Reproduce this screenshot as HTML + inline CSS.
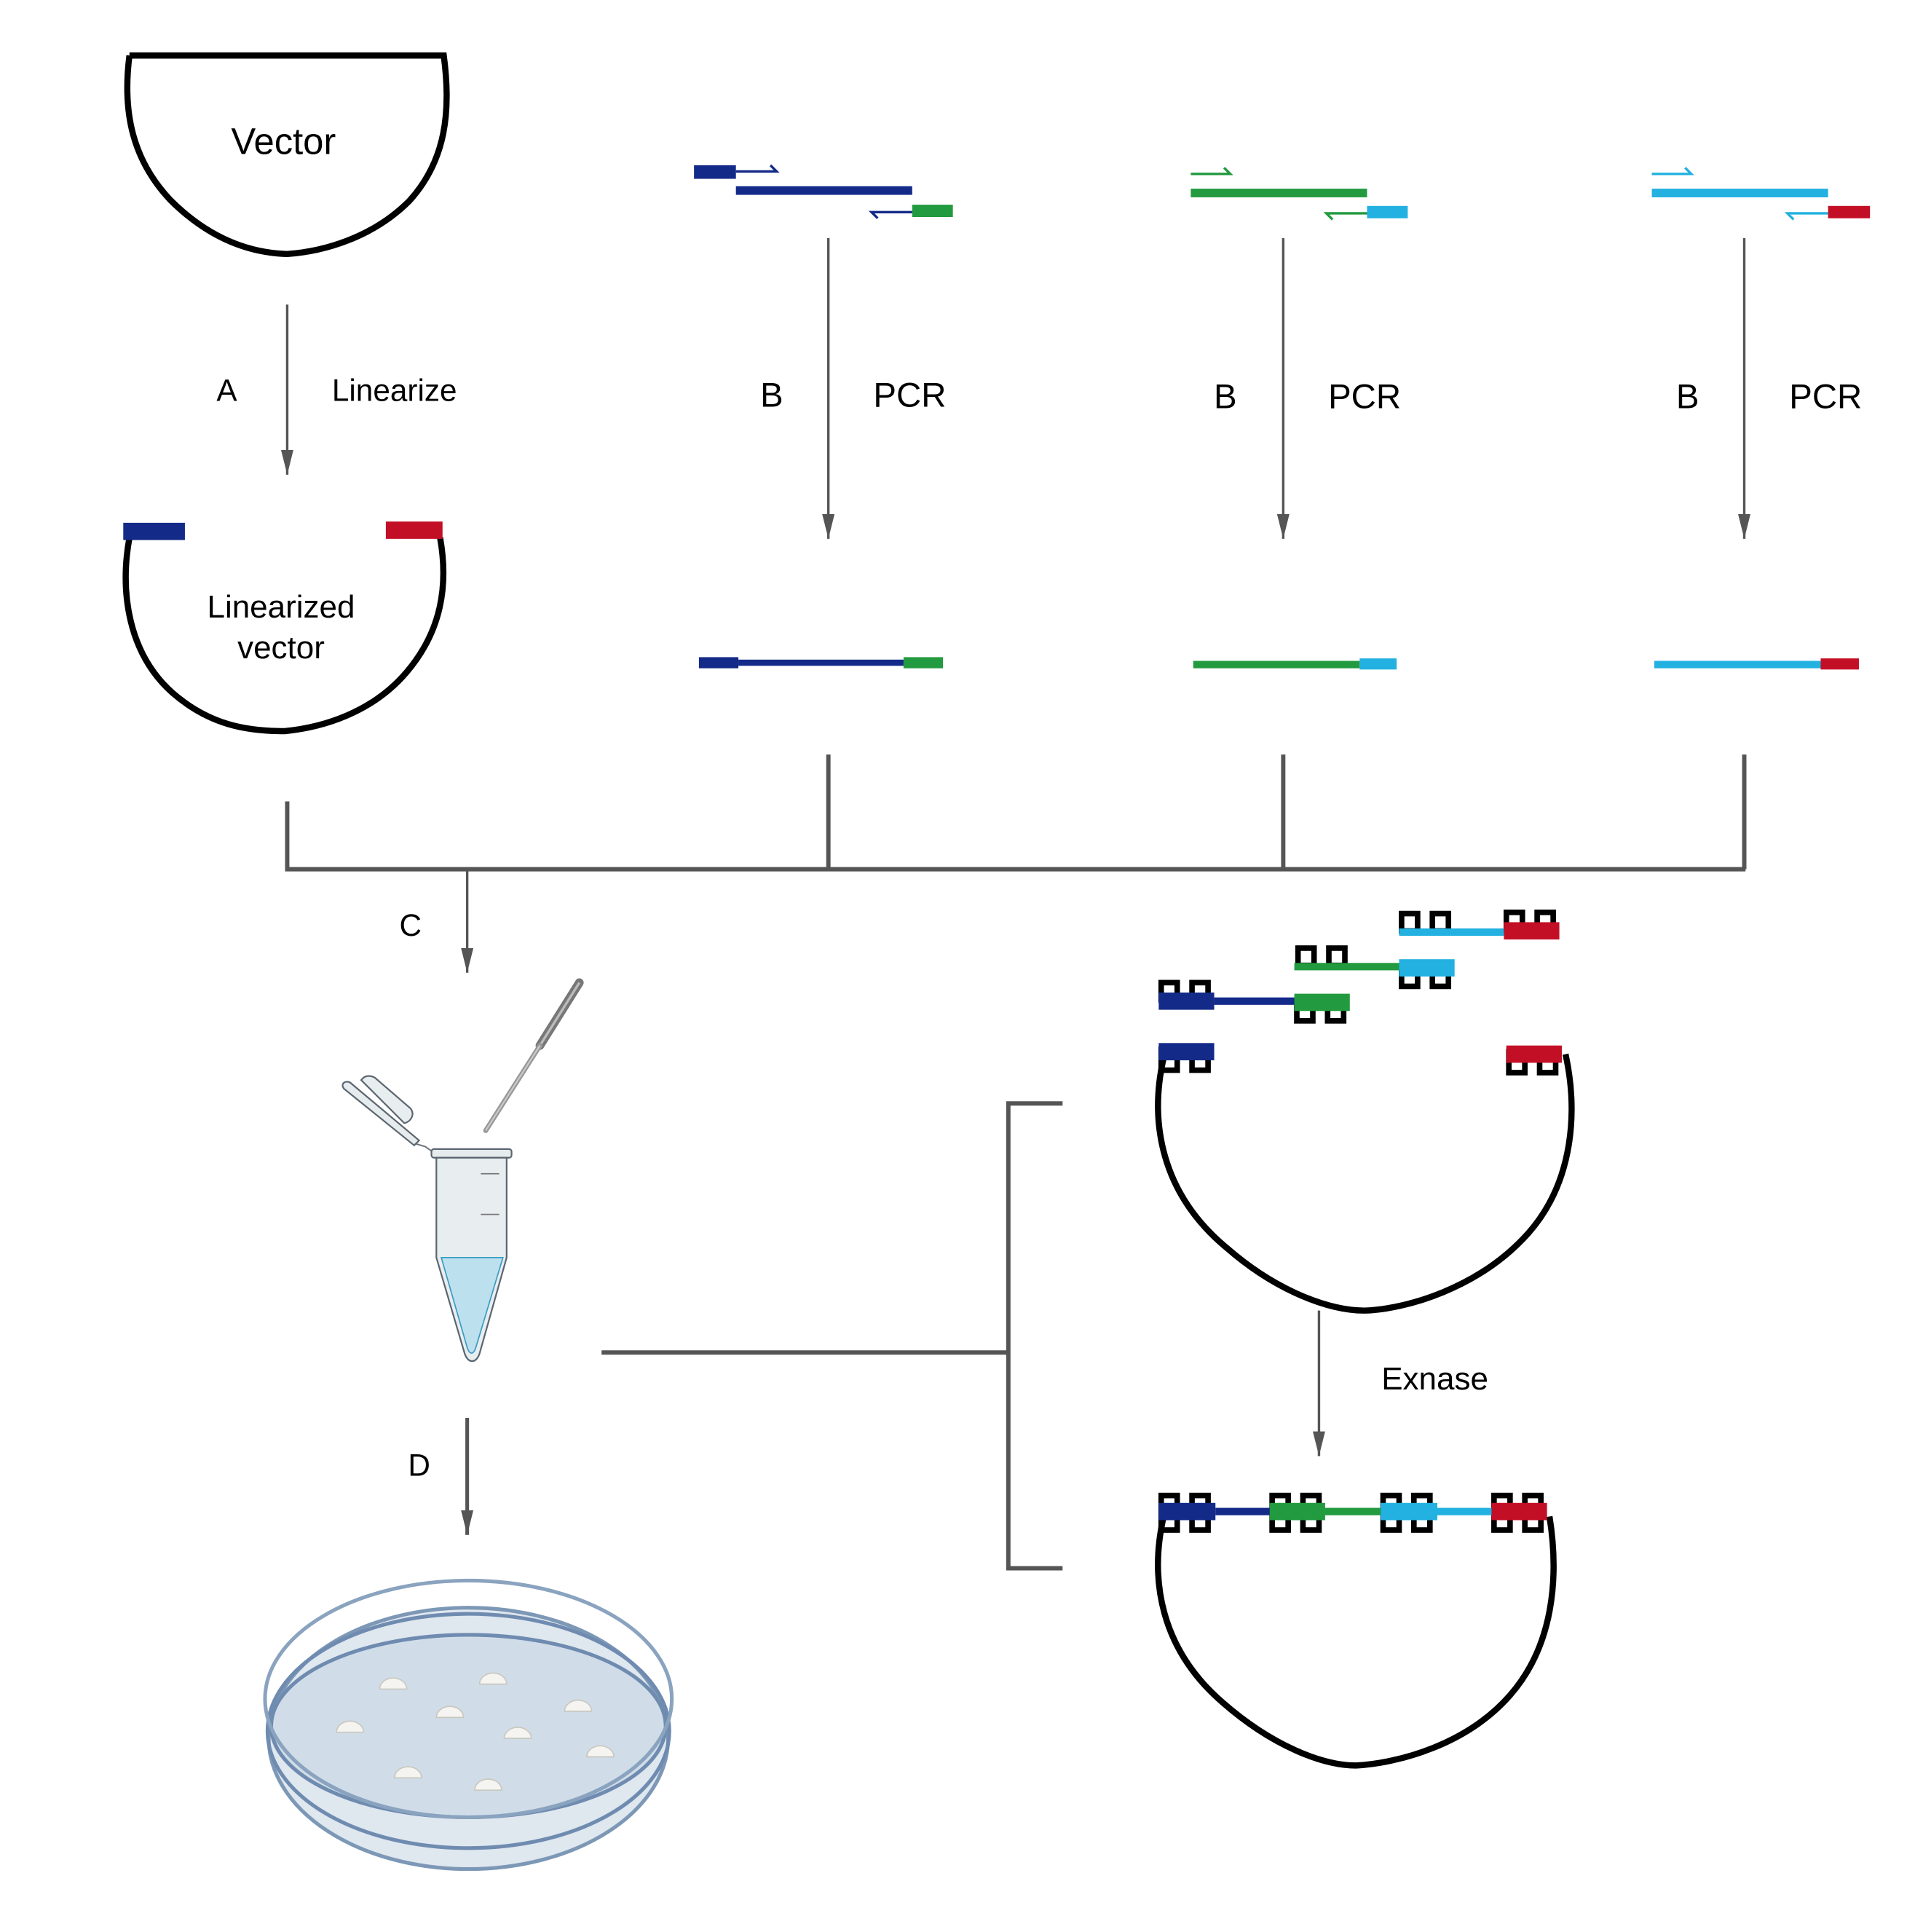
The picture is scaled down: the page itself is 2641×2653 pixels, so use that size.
<!DOCTYPE html>
<html><head><meta charset="utf-8"><style>
html,body{margin:0;padding:0;background:#fff;}
svg{display:block;}
text{font-family:"Liberation Sans",sans-serif;fill:#000;}
</style></head><body>
<svg width="2641" height="2653" viewBox="0 0 1560 1567" xmlns="http://www.w3.org/2000/svg">
<defs>
<marker id="ah" markerWidth="20" markerHeight="10" refX="20" refY="5" orient="auto" markerUnits="userSpaceOnUse" viewBox="0 0 20 10">
<path d="M0,0 L20,5 L0,10 Z" fill="#555"/></marker>
</defs>
<g fill="none" stroke="#000" stroke-width="5">
<path d="M105,45 L360,45 C366,90 362,130 332,163 C302,193 262,204 233,206 C200,205 168,192 138,162 C108,130 99,92 105,45"/>
<path d="M105,436 C97,480 104,530 140,562 C170,588 200,593 231,593 C262,590 302,578 330,545 C358,512 364,475 357,436"/>
<path d="M944,858 C932,910 942,968 995,1012 C1035,1047 1078,1063 1107,1063 C1140,1062 1200,1045 1240,1000 C1277,958 1280,900 1270,855"/>
<path d="M944,1230 C932,1282 942,1338 992,1381 C1032,1416 1073,1432 1100,1432 C1135,1430 1190,1415 1225,1375 C1260,1335 1265,1280 1257,1230"/>
</g>
<text x="230" y="125" font-size="30" text-anchor="middle">Vector</text>
<text x="228" y="501" font-size="26" text-anchor="middle">Linearized</text>
<text x="228" y="534" font-size="26" text-anchor="middle">vector</text>
<rect x="100" y="424" width="50" height="14" fill="#132a88"/>
<rect x="313" y="423" width="46" height="14" fill="#c30f26"/>

<g stroke="#555" stroke-width="2" fill="none">
<line x1="233" y1="247" x2="233" y2="385" marker-end="url(#ah)"/>
<line x1="672" y1="193" x2="672" y2="437" marker-end="url(#ah)"/>
<line x1="1041" y1="193" x2="1041" y2="437" marker-end="url(#ah)"/>
<line x1="1415" y1="193" x2="1415" y2="437" marker-end="url(#ah)"/>
<line x1="379" y1="706" x2="379" y2="789" marker-end="url(#ah)"/>
<line x1="1070" y1="1063" x2="1070" y2="1181" marker-end="url(#ah)"/>
</g>
<line x1="379" y1="1150" x2="379" y2="1245" stroke="#555" stroke-width="3" marker-end="url(#ah)"/>
<text x="184" y="325" font-size="25" text-anchor="middle">A</text>
<text x="320" y="325" font-size="25" text-anchor="middle">Linearize</text>
<g font-size="28" text-anchor="middle">
<text x="626" y="330">B</text><text x="738" y="330">PCR</text>
<text x="994" y="331">B</text><text x="1107" y="331">PCR</text>
<text x="1369" y="331">B</text><text x="1481" y="331">PCR</text>
</g>
<text x="333" y="759" font-size="25" text-anchor="middle">C</text>
<text x="340" y="1197" font-size="25" text-anchor="middle">D</text>
<text x="1164" y="1127" font-size="26" text-anchor="middle">Exnase</text>

<rect x="563" y="134" width="34" height="11" fill="#132a88"/>
<path d="M597,139 L630,139 L625,134" stroke="#132a88" stroke-width="2" fill="none"/>
<rect x="597" y="151" width="143" height="7" fill="#132a88"/>
<rect x="740" y="166" width="33" height="10" fill="#229a3f"/>
<path d="M740,172 L707,172 L712,177" stroke="#132a88" stroke-width="2" fill="none"/>
<path d="M966,141 L998,141 L993,136" stroke="#229a3f" stroke-width="2" fill="none"/>
<rect x="966" y="153" width="143" height="7" fill="#229a3f"/>
<rect x="1109" y="167" width="33" height="10" fill="#22b1e0"/>
<path d="M1109,173 L1076,173 L1081,178" stroke="#229a3f" stroke-width="2" fill="none"/>
<path d="M1340,141 L1372,141 L1367,136" stroke="#22b1e0" stroke-width="2" fill="none"/>
<rect x="1340" y="153" width="143" height="7" fill="#22b1e0"/>
<rect x="1483" y="167" width="34" height="10" fill="#c30f26"/>
<path d="M1483,173 L1450,173 L1455,178" stroke="#22b1e0" stroke-width="2" fill="none"/>

<rect x="567" y="533" width="32" height="9" fill="#132a88"/>
<rect x="599" y="535" width="134" height="5" fill="#132a88"/>
<rect x="733" y="533" width="32" height="9" fill="#229a3f"/>
<rect x="968" y="536" width="135" height="6" fill="#229a3f"/>
<rect x="1103" y="534" width="30" height="9" fill="#22b1e0"/>
<rect x="1342" y="536" width="135" height="6" fill="#22b1e0"/>
<rect x="1477" y="534" width="31" height="9" fill="#c30f26"/>

<g stroke="#555" stroke-width="3.5" fill="none">
<path d="M233,650 L233,705 L1416,705"/>
<line x1="672" y1="612" x2="672" y2="705"/>
<line x1="1041" y1="612" x2="1041" y2="705"/>
<line x1="1415" y1="612" x2="1415" y2="705"/>
<line x1="488" y1="1097" x2="818" y2="1097"/>
<path d="M862,895 L818,895 L818,1272 L862,1272"/>
</g>

<g fill="none" stroke="#000" stroke-width="4.5">
<rect x="942" y="797" width="13" height="14"/><rect x="967" y="797" width="13" height="14"/>
<rect x="1052" y="812" width="13" height="16"/><rect x="1077" y="812" width="13" height="16"/>
<rect x="1053" y="769" width="13" height="14"/><rect x="1078" y="769" width="13" height="14"/>
<rect x="1137" y="784" width="13" height="16"/><rect x="1162" y="784" width="13" height="16"/>
<rect x="1137" y="741" width="13" height="14"/><rect x="1162" y="741" width="13" height="14"/>
<rect x="1222" y="740" width="13" height="14"/><rect x="1247" y="740" width="13" height="14"/>
<rect x="942" y="851" width="13" height="17"/><rect x="967" y="851" width="13" height="17"/>
<rect x="1224" y="853" width="13" height="17"/><rect x="1249" y="853" width="13" height="17"/>
<rect x="942" y="1213" width="13" height="28"/><rect x="967" y="1213" width="13" height="28"/>
<rect x="1032" y="1213" width="13" height="28"/><rect x="1057" y="1213" width="13" height="28"/>
<rect x="1122" y="1213" width="13" height="28"/><rect x="1147" y="1213" width="13" height="28"/>
<rect x="1212" y="1213" width="13" height="28"/><rect x="1237" y="1213" width="13" height="28"/>
</g>
<rect x="940" y="805" width="45" height="14" fill="#132a88"/>
<rect x="985" y="809" width="65" height="6" fill="#132a88"/>
<rect x="1050" y="806" width="45" height="14" fill="#229a3f"/>
<rect x="1050" y="781" width="85" height="6" fill="#229a3f"/>
<rect x="1135" y="778" width="45" height="14" fill="#22b1e0"/>
<rect x="1135" y="753" width="85" height="6" fill="#22b1e0"/>
<rect x="1220" y="748" width="45" height="14" fill="#c30f26"/>
<rect x="940" y="846" width="45" height="14" fill="#132a88"/>
<rect x="1222" y="848" width="45" height="14" fill="#c30f26"/>
<rect x="940" y="1219" width="46" height="14" fill="#132a88"/>
<rect x="986" y="1223" width="44" height="6" fill="#132a88"/>
<rect x="1030" y="1219" width="45" height="14" fill="#229a3f"/>
<rect x="1075" y="1223" width="45" height="6" fill="#229a3f"/>
<rect x="1120" y="1219" width="46" height="14" fill="#22b1e0"/>
<rect x="1166" y="1223" width="44" height="6" fill="#22b1e0"/>
<rect x="1210" y="1219" width="45" height="14" fill="#c30f26"/>

<g>
<line x1="470" y1="797" x2="438" y2="848" stroke="#777" stroke-width="7" stroke-linecap="round"/>
<line x1="470" y1="797" x2="438" y2="848" stroke="#bbb" stroke-width="2"/>
<line x1="438" y1="848" x2="394" y2="917" stroke="#999" stroke-width="4" stroke-linecap="round"/>
<line x1="438" y1="848" x2="394" y2="917" stroke="#ccc" stroke-width="1.2"/>
</g>
<g stroke="#5b6670" stroke-width="1.3">
<path d="M280,880 L335,927 L345,930 L352,935" fill="none" stroke="#6c757d" stroke-width="1.2"/>
<path d="M279,883 C276,879 280,876 284,878 L340,925 L336,929 Z" fill="#e6ecee"/>
<path d="M293,876 C296,872 300,872 304,874 L333,899 C337,904 333,910 328,911 Z" fill="#e8eeef"/>
<rect x="350" y="932" width="65" height="7" rx="2" fill="#e6ecee"/>
<path d="M354,939 L411,939 L411,1020 L389,1098 C386,1106 380,1106 377,1098 L354,1020 Z" fill="#e8eef0"/>
</g>
<path d="M358,1020 L408,1020 L386,1093 C384,1099 381,1099 379,1093 Z" fill="#bde0ee" stroke="#3a9bc2" stroke-width="1"/>
<line x1="390" y1="952" x2="405" y2="952" stroke="#777" stroke-width="1"/>
<line x1="390" y1="985" x2="405" y2="985" stroke="#777" stroke-width="1"/>

<g fill="none" stroke="#7d98b6" stroke-width="3">
<ellipse cx="380" cy="1410" rx="162" ry="106" fill="#dfe7ef"/>
<ellipse cx="380" cy="1400" rx="160" ry="74" fill="#d0dde9" stroke="#6f8bb0"/>
<ellipse cx="380" cy="1404" rx="163" ry="95" stroke="#6f8bb0"/>
<ellipse cx="380" cy="1378" rx="165" ry="96" stroke="#8aa3bf"/>
</g>
<g fill="#f5f4f0" stroke="#c8c8c0" stroke-width="1">
<path d="M308,1370 a11,9 0 0 1 22,0 Z"/>
<path d="M389,1366 a11,9 0 0 1 22,0 Z"/>
<path d="M354,1393 a11,9 0 0 1 22,0 Z"/>
<path d="M273,1405 a11,9 0 0 1 22,0 Z"/>
<path d="M458,1388 a11,9 0 0 1 22,0 Z"/>
<path d="M409,1410 a11,9 0 0 1 22,0 Z"/>
<path d="M476,1425 a11,9 0 0 1 22,0 Z"/>
<path d="M320,1442 a11,9 0 0 1 22,0 Z"/>
<path d="M385,1452 a11,9 0 0 1 22,0 Z"/>
</g>
</svg>
</body></html>
